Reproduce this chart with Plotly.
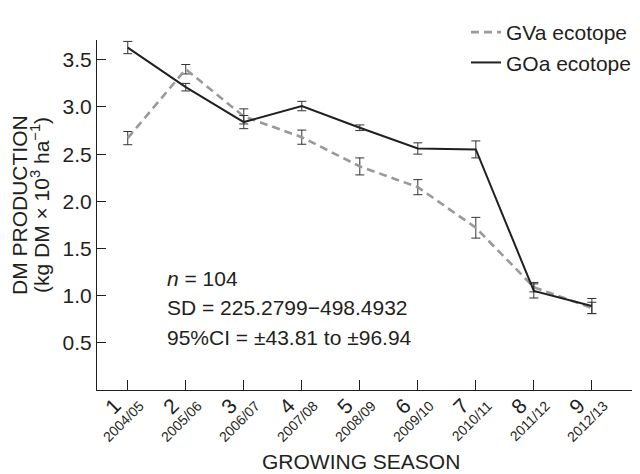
import plotly.graph_objects as go

seasons = [1, 2, 3, 4, 5, 6, 7, 8, 9]
numerals = ["1", "2", "3", "4", "5", "6", "7", "8", "9"]
years = ["2004/05", "2005/06", "2006/07", "2007/08", "2008/09",
         "2009/10", "2010/11", "2011/12", "2012/13"]

gva = [2.67, 3.40, 2.90, 2.68, 2.37, 2.15, 1.72, 1.09, 0.87]
gva_err = [0.07, 0.05, 0.08, 0.075, 0.09, 0.08, 0.11, 0.05, 0.06]
goa = [3.63, 3.21, 2.84, 3.01, 2.78, 2.56, 2.55, 1.05, 0.89]
goa_err = [0.065, 0.04, 0.07, 0.05, 0.03, 0.06, 0.09, 0.075, 0.08]

yticks = [0.5, 1.0, 1.5, 2.0, 2.5, 3.0, 3.5]
stats_lines = ["<i>n</i> = 104", "SD = 225.2799\u2212498.4932", "95%CI = \u00b143.81 to \u00b196.94"]

FONT = "Arial, Liberation Sans, sans-serif"

fig = go.Figure()
fig.add_trace(go.Scatter(
    x=seasons, y=gva, mode="lines", name="GVa ecotope",
    line=dict(color="#999999", width=2.6, dash="8px,5px"),
    error_y=dict(type="data", array=gva_err, color="#333333", thickness=1, width=4.5),
))
fig.add_trace(go.Scatter(
    x=seasons, y=goa, mode="lines", name="GOa ecotope",
    line=dict(color="#231f20", width=2),
    error_y=dict(type="data", array=goa_err, color="#333333", thickness=1, width=4.5),
))
# carrier for the secondary (year) tick-label axis
fig.add_trace(go.Scatter(x=seasons, y=[None] * len(seasons), xaxis="x2",
                         showlegend=False, hoverinfo="skip"))

# page has an 8px body margin: figure is 632x466 drawn at (8, 8)
fig.update_layout(
    width=632, height=466,
    margin=dict(l=89, r=0, t=32, b=84, autoexpand=False),
    paper_bgcolor="white", plot_bgcolor="white",
    font=dict(family=FONT, color="#231f20", size=21),
    showlegend=True,
    legend=dict(x=(466 - 97) / 543, y=(390 - 12) / 350, xanchor="left", yanchor="top",
                bgcolor="rgba(0,0,0,0)", font=dict(size=21), tracegroupgap=0),
    xaxis=dict(range=[0.47, 9.83], tickvals=seasons, ticktext=numerals,
               tickangle=-45, tickfont=dict(size=21), automargin=False,
               ticklabelshift=-13, ticklabelstandoff=-6,
               ticks="inside", ticklen=10, tickcolor="#231f20",
               showline=True, linecolor="#231f20", linewidth=1,
               showgrid=False, zeroline=False),
    xaxis2=dict(overlaying="x", matches="x", side="bottom", anchor="y",
                tickvals=seasons, ticktext=years, tickangle=-45, automargin=False,
                tickfont=dict(size=14), ticks="", showline=False,
                showgrid=False, zeroline=False, ticklabelshift=12, ticklabelstandoff=4),
    yaxis=dict(range=[0, 3.71], tickvals=yticks, tickformat=".1f", automargin=False,
               ticks="inside", ticklen=9, tickcolor="#231f20",
               showline=True, linecolor="#231f20", linewidth=1,
               showgrid=False, zeroline=False, tickfont=dict(size=21)),
)

# axis titles (positions given in page pixels, converted to plot-paper units)
fig.add_annotation(text="GROWING SEASON", xref="paper", yref="paper",
                   x=(361 - 97) / 543, y=(390 - 461) / 350, showarrow=False,
                   xanchor="center", yanchor="middle", font=dict(size=21))
fig.add_annotation(text="DM PRODUCTION", xref="paper", yref="paper",
                   x=(19 - 97) / 543, y=(390 - 205) / 350, showarrow=False,
                   textangle=-90, xanchor="center", yanchor="middle", font=dict(size=21))
fig.add_annotation(text="(kg DM \u00d7 10<sup>3</sup> ha<sup>\u22121</sup>)", xref="paper", yref="paper",
                   x=(40 - 97) / 543, y=(390 - 205) / 350, showarrow=False,
                   textangle=-90, xanchor="center", yanchor="middle", font=dict(size=21))

for txt, yc in zip(stats_lines, [278, 307.5, 337.5]):
    fig.add_annotation(text=txt, xref="paper", yref="paper",
                       x=(165 - 97) / 543, y=(390 - yc) / 350, showarrow=False,
                       xanchor="left", yanchor="middle", font=dict(size=21))

fig.write_html("out.html")
